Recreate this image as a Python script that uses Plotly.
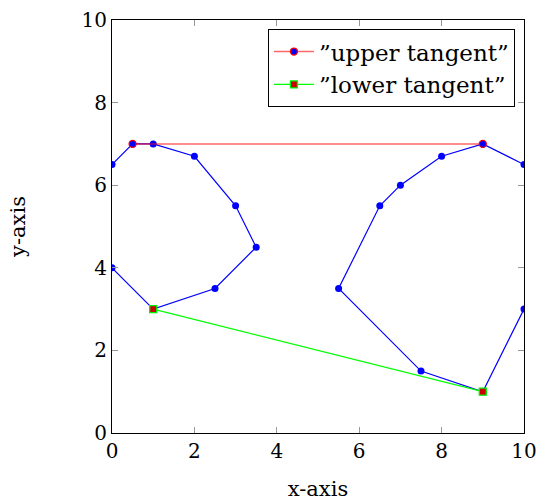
import plotly.graph_objects as go

# Left polygon points
left_x = [0, 0.5, 1, 2, 3, 3.5, 2.5, 1, 0]
left_y = [6.5, 7, 7, 6.7, 5.5, 4.5, 3.5, 3, 4]
# Right polygon points
right_x = [10, 9, 8, 7, 6.5, 5.5, 7.5, 9, 10]
right_y = [6.5, 7, 6.7, 6, 5.5, 3.5, 1.5, 1, 3]
# Tangents
upper_x = [0.5, 9]
upper_y = [7, 7]
lower_x = [1, 9]
lower_y = [3, 1]

FONT = "DejaVu Serif"

fig = go.Figure()
for xs, ys in [(left_x, left_y), (right_x, right_y)]:
    fig.add_trace(go.Scatter(
        x=xs, y=ys, mode="lines+markers", showlegend=False,
        line=dict(color="blue", width=1.2),
        marker=dict(color="blue", size=7, symbol="circle"),
    ))

fig.add_trace(go.Scatter(
    x=upper_x, y=upper_y, mode="lines+markers", name="”upper tangent”",
    line=dict(color="rgba(255,0,0,0.6)", width=1.5),
    marker=dict(color="blue", size=7, symbol="circle",
                line=dict(color="red", width=1.3)),
))
fig.add_trace(go.Scatter(
    x=lower_x, y=lower_y, mode="lines+markers", name="”lower tangent”",
    line=dict(color="#00ff00", width=1.2),
    marker=dict(color="#cc0000", size=7, symbol="square",
                line=dict(color="#00ee00", width=1.3)),
))

axis_common = dict(
    showgrid=False, zeroline=False, showline=True, linecolor="black",
    linewidth=1.2, mirror="ticks", ticks="inside", ticklen=6,
    tickcolor="#999999", tickwidth=1, automargin=False,
    tickfont=dict(family=FONT, size=20, color="black"),
)

fig.update_layout(
    width=538, height=501,
    margin=dict(l=112, r=14, t=20, b=68, autoexpand=False),
    paper_bgcolor="white", plot_bgcolor="white",
    font=dict(family=FONT, size=20, color="black"),
    xaxis=dict(range=[0, 10], dtick=2, tick0=0,
               title=dict(text="x-axis", font=dict(family=FONT, size=21), standoff=20),
               **axis_common),
    yaxis=dict(range=[0, 10], dtick=2, tick0=0,
               title=dict(text="y-axis", font=dict(family=FONT, size=21), standoff=50),
               **axis_common),
    legend=dict(x=0.978, y=0.978, xanchor="right", yanchor="top",
                bgcolor="white", bordercolor="black", borderwidth=1,
                font=dict(family=FONT, size=23, color="black"),
                tracegroupgap=0, itemwidth=40),
)

fig.write_html("out.html")
